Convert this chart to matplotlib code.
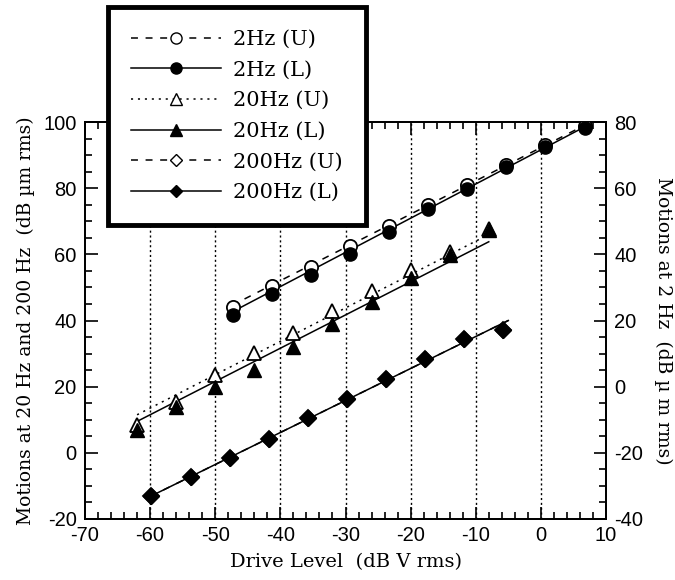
import numpy as np
import matplotlib.pyplot as plt
import matplotlib.lines as mlines
from matplotlib.ticker import MultipleLocator

plt.rcParams['axes.unicode_minus'] = False
plt.rcParams['lines.scale_dashes'] = False

# drive level (dB V rms) of each measurement
drive_2hz = [-47.3, -41.3, -35.3, -29.3, -23.3, -17.3, -11.3, -5.3, 0.7, 6.7]
drive_20hz = [-62, -56, -50, -44, -38, -32, -26, -20, -14, -8]
drive_200hz = [-59.8, -53.8, -47.8, -41.8, -35.8, -29.8, -23.8, -17.8, -11.8, -5.8]

# motions (dB um rms); 2 Hz is read on the right axis
m2_upper = [24.2, 30.5, 36.3, 42.5, 48.7, 54.9, 61.0, 67.0, 73.0, 78.8]
m2_lower = [21.7, 27.9, 33.8, 40.1, 46.6, 53.6, 59.7, 66.5, 72.5, 78.3]
m20_upper = [8.5, 15.5, 23.6, 30.3, 36.3, 43.0, 48.9, 55.3, 60.8, 67.8]
m20_lower = [7.0, 14.0, 20.0, 25.1, 32.1, 39.0, 45.7, 52.8, 59.8, 67.3]
m200_upper = [-13.0, -7.3, -1.6, 4.3, 10.4, 16.3, 22.4, 28.4, 34.3, 37.2]
m200_lower = [-13.0, -7.3, -1.6, 4.3, 10.4, 16.3, 22.4, 28.4, 34.3, 37.2]

# end points of the fitted lines
fit2_x = [-47.5, 6.5]
fit2_upper = [24.5, 78.8]
fit2_lower = [22.5, 78.3]
fit20_x = [-62, -8]
fit20_upper = [11.5, 66.0]
fit20_lower = [9.5, 63.8]
fit200_x = [-60, -5]
fit200_upper = [-13.2, 40.0]
fit200_lower = [-13.2, 40.0]

grid_x = [-60, -50, -40, -30, -20, -10, 0]

serif = ['DejaVu Serif']
sans = ['Liberation Sans', 'DejaVu Sans']

DASH = (0, (5, 5.5))
DOT = (0, (1.5, 3.5))
LW = 1.1
MS = 9.5

fig = plt.figure(figsize=(6.75, 5.8), dpi=100)
ax = fig.add_axes([85 / 675, 1 - 519 / 580, (606 - 85) / 675, (519 - 122) / 580])
ax2 = ax.twinx()

ax.set_xlim(-70, 10)
ax.set_ylim(-20, 100)
ax2.set_ylim(-40, 80)

for gx in grid_x:
    ax.axvline(gx, color='black', lw=1, ls=(0, (1.5, 2)), zorder=1)

# 20 Hz and 200 Hz on left axis
ax.plot(fit20_x, fit20_upper, color='black', lw=LW, ls=DOT, zorder=2)
ax.plot(fit20_x, fit20_lower, color='black', lw=LW, ls='-', zorder=2)
ax.plot(fit200_x, fit200_upper, color='black', lw=LW, ls=DASH, zorder=2)
ax.plot(fit200_x, fit200_lower, color='black', lw=LW, ls='-', zorder=2)
ax.plot(drive_20hz, m20_upper, ls='none', marker='^', ms=MS, mfc='white', mec='black', mew=1.3, zorder=3)
ax.plot(drive_20hz, m20_lower, ls='none', marker='^', ms=MS, mfc='black', mec='black', zorder=4)
ax.plot(drive_200hz, m200_upper, ls='none', marker='D', ms=MS - 1.5, mfc='white', mec='black', mew=1.3, zorder=3)
ax.plot(drive_200hz, m200_lower, ls='none', marker='D', ms=MS - 1.5, mfc='black', mec='black', zorder=4)

# 2 Hz on right axis
ax2.plot(fit2_x, fit2_upper, color='black', lw=LW, ls=DASH, zorder=2)
ax2.plot(fit2_x, fit2_lower, color='black', lw=LW, ls='-', zorder=2)
ax2.plot(drive_2hz, m2_upper, ls='none', marker='o', ms=MS, mfc='white', mec='black', mew=1.3, zorder=3)
ax2.plot(drive_2hz, m2_lower, ls='none', marker='o', ms=MS, mfc='black', mec='black', zorder=4)

# ticks
ax.xaxis.set_major_locator(MultipleLocator(10))
ax.xaxis.set_minor_locator(MultipleLocator(2))
ax.yaxis.set_major_locator(MultipleLocator(20))
ax.yaxis.set_minor_locator(MultipleLocator(5))
ax2.yaxis.set_major_locator(MultipleLocator(20))
ax2.yaxis.set_minor_locator(MultipleLocator(5))
ax.tick_params(which='both', direction='in', top=True, width=1.2, labelsize=14.5)
ax.tick_params(which='major', length=9)
ax.tick_params(which='minor', length=5)
ax.tick_params(axis='y', pad=6)
ax.tick_params(axis='x', pad=5)
ax2.tick_params(which='both', direction='in', width=1.2, labelsize=14.5, pad=6)
ax2.tick_params(which='major', length=9)
ax2.tick_params(which='minor', length=5)
for lab in ax.get_xticklabels() + ax.get_yticklabels() + ax2.get_yticklabels():
    lab.set_family(sans)
for a in (ax, ax2):
    for s in a.spines.values():
        s.set_linewidth(1.3)

ax.set_xlabel('Drive Level  (dB V rms)', family=serif, fontsize=14, labelpad=6)
ax.set_ylabel('Motions at 20 Hz and 200 Hz  (dB µm rms)', family=serif, fontsize=13.5, labelpad=6)
ax2.set_ylabel('Motions at 2 Hz  (dB µ m rms)', family=serif, fontsize=13.5, rotation=-90, va='bottom', labelpad=8)

# legend
handles = [
    mlines.Line2D([], [], color='black', lw=LW, ls=DASH, marker='o', ms=8, mfc='white', mec='black', label='2Hz (U)'),
    mlines.Line2D([], [], color='black', lw=LW, ls='-', marker='o', ms=8, mfc='black', label='2Hz (L)'),
    mlines.Line2D([], [], color='black', lw=LW, ls=DOT, marker='^', ms=8, mfc='white', mec='black', label='20Hz (U)'),
    mlines.Line2D([], [], color='black', lw=LW, ls='-', marker='^', ms=8, mfc='black', label='20Hz (L)'),
    mlines.Line2D([], [], color='black', lw=LW, ls=DASH, marker='D', ms=6.5, mfc='white', mec='black', label='200Hz (U)'),
    mlines.Line2D([], [], color='black', lw=LW, ls='-', marker='D', ms=6.5, mfc='black', label='200Hz (L)'),
]
leg = fig.legend(handles=handles, loc='upper left', bbox_to_anchor=(108 / 675, 1 - 7 / 580),
                 bbox_transform=fig.transFigure, borderaxespad=0, frameon=True, fancybox=False,
                 framealpha=1, handlelength=4.3, handletextpad=0.6, labelspacing=0.56, borderpad=1.1,
                 prop={'family': serif, 'size': 15})
leg.get_frame().set_edgecolor('black')
leg.get_frame().set_linewidth(3.5)
leg.set_zorder(10)

fig.savefig('out.png', dpi=100)
